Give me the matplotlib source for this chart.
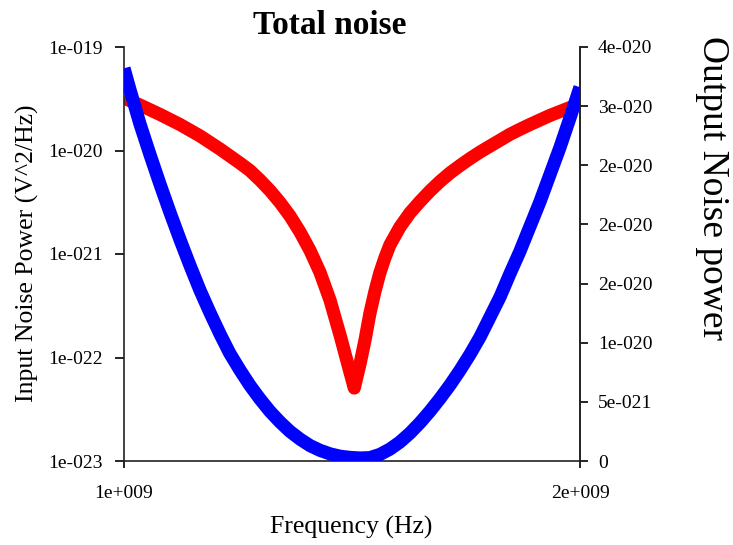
import numpy as np
import matplotlib
matplotlib.use('Agg')
import matplotlib.pyplot as plt

# 频率 (GHz) 与两条噪声曲线
red_freq_ghz = [1.000, 1.035, 1.079, 1.123, 1.167, 1.211, 1.254, 1.276, 1.298, 1.320,
                1.342, 1.364, 1.386, 1.408, 1.430, 1.452, 1.474, 1.489, 1.505, 1.518,
                1.529, 1.539, 1.550, 1.561, 1.572, 1.583, 1.605, 1.627, 1.649, 1.671,
                1.693, 1.715, 1.737, 1.759, 1.781, 1.803, 1.825, 1.846, 1.868, 1.890,
                1.912, 1.934, 1.956, 1.978, 2.000]
red_input_noise = [3.21e-20, 2.75e-20, 2.23e-20, 1.78e-20, 1.38e-20, 1.03e-20, 7.57e-21,
                   6.41e-21, 5.19e-21, 4.11e-21, 3.15e-21, 2.33e-21, 1.63e-21, 1.08e-21,
                   6.62e-22, 3.56e-22, 1.63e-22, 9.25e-23, 5.07e-23, 8.85e-23, 1.51e-22,
                   2.63e-22, 4.30e-22, 6.55e-22, 9.14e-22, 1.22e-21, 1.82e-21, 2.49e-21,
                   3.21e-21, 4.06e-21, 5.02e-21, 6.07e-21, 7.16e-21, 8.37e-21, 9.68e-21,
                   1.105e-20, 1.26e-20, 1.43e-20, 1.60e-20, 1.78e-20, 1.97e-20, 2.18e-20,
                   2.38e-20, 2.60e-20, 2.85e-20]

blue_freq_ghz = [1.000, 1.013, 1.035, 1.057, 1.079, 1.101, 1.123, 1.145, 1.167, 1.189,
                 1.211, 1.232, 1.254, 1.276, 1.298, 1.320, 1.342, 1.364, 1.386, 1.408,
                 1.430, 1.452, 1.474, 1.496, 1.518, 1.539, 1.561, 1.583, 1.605, 1.627,
                 1.649, 1.671, 1.693, 1.715, 1.737, 1.759, 1.781, 1.803, 1.825, 1.846,
                 1.868, 1.890, 1.912, 1.934, 1.956, 1.978, 2.000]
blue_output_noise = [33.2, 31.4, 28.5, 25.9, 23.4, 21.0, 18.7, 16.5, 14.4, 12.5,
                     10.7, 9.1, 7.7, 6.4, 5.25, 4.2, 3.3, 2.5, 1.85, 1.3,
                     0.9, 0.6, 0.4, 0.3, 0.25, 0.28, 0.55, 1.0, 1.6, 2.35,
                     3.23, 4.21, 5.28, 6.43, 7.68, 9.03, 10.5, 12.2, 13.9, 15.8,
                     17.7, 19.8, 21.9, 24.2, 26.5, 29.0, 31.6]  # 单位 1e-21

left_ticks = [1e-23, 1e-22, 1e-21, 1e-20, 1e-19]
left_tick_labels = ['1e-023', '1e-022', '1e-021', '1e-020', '1e-019']
right_ticks = [0, 5e-21, 1e-20, 1.5e-20, 2e-20, 2.5e-20, 3e-20, 3.5e-20]
right_tick_labels = ['0', '5e-021', '1e-020', '2e-020', '2e-020', '2e-020', '3e-020', '4e-020']
x_ticks = [1e9, 2e9]
x_tick_labels = ['1e+009', '2e+009']

plt.rcParams['font.family'] = ['Liberation Serif', 'DejaVu Serif']

fig = plt.figure(figsize=(7.33, 5.45), dpi=100)
ax = fig.add_axes([124 / 733, 84 / 545, 456 / 733, 414 / 545])
ax2 = ax.twinx()

red_f = np.array(red_freq_ghz) * 1e9
blue_f = np.array(blue_freq_ghz) * 1e9
ax.plot(red_f, red_input_noise, color='#ff0000', lw=9.5, solid_joinstyle='round',
        solid_capstyle='butt')
ax2.plot(blue_f, np.array(blue_output_noise) * 1e-21, color='#0000ff', lw=9.5,
         solid_joinstyle='round', solid_capstyle='butt')

ax.set_yscale('log')
ax.set_xlim(1e9, 2e9)
ax.set_ylim(1e-23, 1e-19)
ax2.set_ylim(0, 3.5e-20)

ax.set_xticks(x_ticks)
ax.set_xticklabels(x_tick_labels)
ax.set_yticks(left_ticks)
ax.set_yticklabels(left_tick_labels)
ax.yaxis.set_minor_locator(matplotlib.ticker.NullLocator())
ax2.set_yticks(right_ticks)
ax2.set_yticklabels(right_tick_labels)

for a in (ax, ax2):
    a.spines['top'].set_visible(False)
    for s in a.spines.values():
        s.set_linewidth(1.2)
        s.set_color('#222222')
ax2.spines['left'].set_visible(False)
ax2.spines['bottom'].set_visible(False)

ax.tick_params(axis='y', direction='out', length=6.5, width=1.2, pad=8.5, labelsize=14)
ax.tick_params(axis='x', direction='out', length=5, width=1.2, pad=12, labelsize=14)
ax2.tick_params(axis='y', direction='out', length=6, width=1.2, pad=7, labelsize=14)

fig.text(330 / 733, 1 - 26 / 545, 'Total noise', ha='center', va='center',
         fontsize=24, fontweight='bold')
fig.text(351 / 733, 1 - 527 / 545, 'Frequency (Hz)', ha='center', va='center', fontsize=18.5)
fig.text(27 / 733, 1 - 253 / 545, 'Input Noise Power (V^2/Hz)', ha='center', va='center',
         rotation=90, fontsize=18.5)
fig.text(712 / 733, 1 - 188 / 545, 'Output Noise power', ha='center', va='center',
         rotation=270, fontsize=27)

fig.savefig('out.png', dpi=100)
